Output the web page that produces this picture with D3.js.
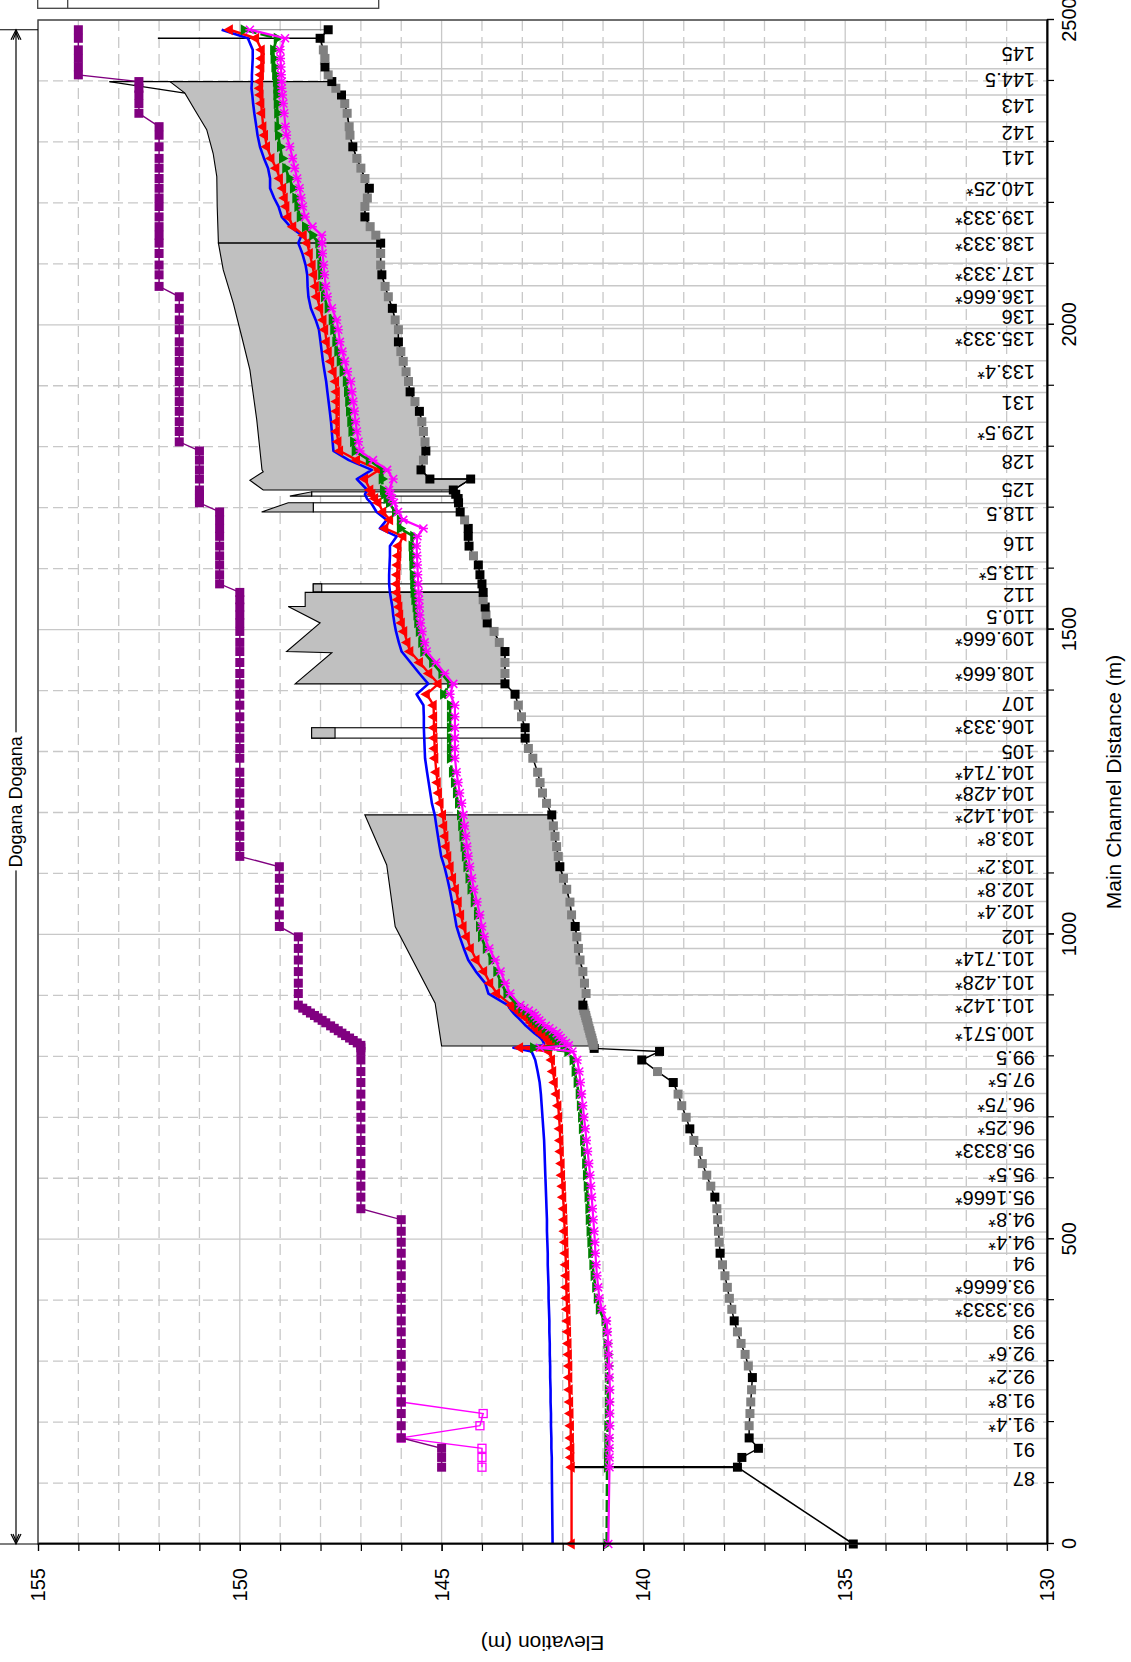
<!DOCTYPE html>
<html>
<head>
<meta charset="utf-8">
<title>Dogana Dogana – longitudinal profile</title>
<script src="https://cdn.jsdelivr.net/npm/d3@7/dist/d3.min.js"></script>
<style>
  html, body { margin: 0; padding: 0; background: #fff; }
  svg { display: block; font-family: "Liberation Sans", Arial, Helvetica, sans-serif; }
</style>
</head>
<body>
<svg id="chart" width="1131" height="1662"></svg>
<script>
// ---------- reach, axes ----------
const reachName = "Dogana Dogana";
const distanceTitle = "Main Channel Distance (m)";
const elevationTitle = "Elevation (m)";
const distanceDomain = [0, 2500];
const elevationDomain = [130, 155];
const distanceTickLabels = [0, 500, 1000, 1500, 2000, 2500];
const elevationTickLabels = [130, 135, 140, 145, 150, 155];

// ---------- labelled river stations [name, main channel distance] ----------
const sectionLabels = [
  ["145", 2463], ["144.5", 2420], ["143", 2377], ["142", 2333], ["141", 2292], ["140.25*", 2240],
  ["139.333*", 2194], ["138.333*", 2150], ["137.333*", 2101], ["136.666*", 2064], ["136", 2031],
  ["135.333*", 1994], ["133.4*", 1941], ["131", 1889], ["129.5*", 1840], ["128", 1793], ["125", 1747],
  ["118.5", 1707], ["116", 1659], ["113.5*", 1611], ["112", 1575], ["110.5", 1538], ["109.666*", 1502],
  ["108.666*", 1446], ["107", 1396], ["106.333*", 1358], ["105", 1317], ["104.714*", 1283],
  ["104.428*", 1249], ["104.142*", 1212], ["103.8*", 1174], ["103.2*", 1128], ["102.8*", 1091],
  ["102.4*", 1054], ["102", 1013], ["101.714*", 977], ["101.428*", 939], ["101.142*", 901],
  ["100.571*", 855], ["99.5", 816], ["97.5*", 779], ["96.75*", 739], ["96.25*", 701], ["95.8333*", 663],
  ["95.5*", 623], ["95.1666*", 586], ["94.8*", 550], ["94.4*", 512], ["94", 477], ["93.6666*", 440],
  ["93.3333*", 402], ["93", 366], ["92.6*", 329], ["92.2*", 292], ["91.8*", 253], ["91.4*", 213],
  ["91", 173], ["87", 125]
];

// ---------- computed sections (distance, m) ----------
const stations = [
  0, 126, 142, 157, 174, 194, 214, 233, 253, 273, 292, 311, 329, 348, 366, 385, 403, 421, 440, 458,
  477, 495, 513, 532, 550, 569, 587, 605, 624, 644, 662, 681, 700, 719, 738, 757, 775, 794, 808,
  814, 818, 822, 826, 830, 834, 838, 842, 846, 850, 855, 859, 863, 867, 871, 875, 879, 884,
  903, 920, 939, 958, 977, 996, 1013, 1032, 1053, 1074, 1092, 1111, 1128, 1144, 1161, 1178, 1196, 1215,
  1232, 1249, 1266, 1289, 1305, 1322, 1339, 1357, 1376, 1394, 1411,
  1428, 1446, 1464, 1479, 1497, 1511, 1524, 1537, 1549, 1561, 1575, 1590, 1606, 1621, 1637, 1653, 1666, 1680, 1693, 1708, 1715, 1722, 1729, 1747,
  1762, 1778, 1793, 1808, 1825, 1841, 1858, 1874, 1890, 1907, 1923, 1940, 1956, 1972, 1992, 2008, 2027, 2046, 2063, 2082, 2098, 2117, 2134,
  2147, 2161, 2177, 2194, 2208, 2224, 2240, 2257, 2273, 2292, 2311, 2325, 2347, 2363, 2377, 2388, 2399, 2410, 2423, 2437, 2451, 2470, 2484
];

// water surface, profile drawn in blue (m)
const wsBlue = [
  142.25, 142.27, 142.27, 142.28, 142.28, 142.29, 142.29, 142.30, 142.30, 142.31, 142.31, 142.32, 142.32, 142.33, 142.33, 142.34, 142.35, 142.35, 142.36, 142.37,
  142.37, 142.38, 142.39, 142.39, 142.40, 142.41, 142.42, 142.43, 142.44, 142.45, 142.46, 142.48, 142.50, 142.52, 142.54, 142.57, 142.62, 142.68, 142.77,
  143.22, 142.46, 142.47, 142.50, 142.55, 142.62, 142.70, 142.77, 142.84, 142.91, 142.98, 143.04, 143.10, 143.16, 143.22, 143.27, 143.31, 143.36,
  143.84, 143.92, 144.15, 144.34, 144.45, 144.55, 144.63, 144.68, 144.74, 144.80, 144.86, 144.93, 145.01, 145.05, 145.09, 145.13, 145.17, 145.24,
  145.28, 145.32, 145.36, 145.41, 145.42, 145.43, 145.44, 145.44, 145.45, 145.62, 145.33,
  145.55, 145.77, 145.99, 146.06, 146.13, 146.17, 146.20, 146.22, 146.25, 146.28, 146.30, 146.30, 146.29, 146.28, 146.28, 146.11, 146.53, 146.36, 146.61, 146.75, 146.85, 146.90, 146.84, 147.10,
  146.73, 147.30, 147.68, 147.70, 147.72, 147.74, 147.77, 147.80, 147.83, 147.86, 147.90, 147.94, 147.97, 148.00, 148.04, 148.12, 148.24, 148.30, 148.32, 148.33, 148.37, 148.45, 148.55,
  148.47, 148.75, 148.96, 149.04, 149.15, 149.25, 149.25, 149.30, 149.40, 149.50, 149.56, 149.59, 149.64, 149.67, 149.69, 149.71, 149.70, 149.70, 149.69, 149.68, 149.68, 149.80, 150.45
];

// water surface, profile drawn in red with triangles (m)
const wsRed = [
  141.78, 141.78, 141.79, 141.79, 141.80, 141.80, 141.81, 141.82, 141.83, 141.84, 141.84, 141.85, 141.86, 141.87, 141.88, 141.89, 141.90, 141.91, 141.91, 141.92,
  141.93, 141.94, 141.95, 141.96, 141.97, 141.99, 142.00, 142.02, 142.03, 142.05, 142.06, 142.07, 142.09, 142.11, 142.15, 142.20, 142.24, 142.27, 142.34,
  143.06, 142.27, 142.30, 142.34, 142.40, 142.47, 142.54, 142.60, 142.66, 142.72, 142.78, 142.82, 142.90, 142.98, 143.05, 143.12, 143.20, 143.27,
  143.63, 143.80, 143.95, 144.14, 144.28, 144.38, 144.46, 144.52, 144.58, 144.65, 144.72, 144.78, 144.84, 144.88, 144.91, 144.94, 144.97, 145.03,
  145.07, 145.10, 145.13, 145.16, 145.17, 145.18, 145.19, 145.19, 145.20, 145.37, 145.08,
  145.31, 145.54, 145.78, 145.85, 145.93, 145.99, 146.03, 146.05, 146.08, 146.10, 146.11, 146.10, 146.09, 146.08, 146.07, 145.95, 146.40, 146.28, 146.45, 146.57, 146.65, 146.72, 146.77, 146.90,
  146.55, 147.10, 147.52, 147.56, 147.60, 147.60, 147.60, 147.60, 147.60, 147.62, 147.68, 147.74, 147.80, 147.85, 147.89, 147.93, 148.01, 148.09, 148.12, 148.16, 148.20, 148.27, 148.33,
  148.42, 148.68, 148.80, 148.85, 148.89, 148.93, 149.01, 149.10, 149.22, 149.33, 149.38, 149.42, 149.45, 149.47, 149.49, 149.50, 149.50, 149.48, 149.47, 149.46, 149.46, 149.60, 150.25
];

// water surface, profile drawn in dashed green with triangles (m)
const wsGreen = [
  140.91, 140.90, 140.90, 140.89, 140.89, 140.89, 140.88, 140.88, 140.88, 140.88, 140.88, 140.89, 140.91, 140.93, 140.96, 141.10, 141.15, 141.19, 141.23, 141.26,
  141.29, 141.31, 141.33, 141.35, 141.36, 141.38, 141.40, 141.42, 141.44, 141.47, 141.49, 141.52, 141.54, 141.57, 141.60, 141.65, 141.70, 141.75, 141.88,
  142.73, 141.98, 142.05, 142.12, 142.18, 142.23, 142.27, 142.35, 142.44, 142.53, 142.62, 142.68, 142.74, 142.78, 142.82, 142.92, 143.02, 143.12,
  143.39, 143.52, 143.64, 143.76, 143.90, 144.02, 144.07, 144.12, 144.20, 144.28, 144.33, 144.38, 144.42, 144.45, 144.48, 144.51, 144.54, 144.59,
  144.64, 144.69, 144.74, 144.79, 144.79, 144.79, 144.79, 144.79, 144.79, 144.96, 144.79,
  145.00, 145.23, 145.45, 145.50, 145.56, 145.60, 145.62, 145.64, 145.67, 145.69, 145.70, 145.71, 145.72, 145.73, 145.74, 145.70, 146.03, 146.03, 146.15, 146.30, 146.36, 146.42, 146.45, 146.48,
  146.45, 146.80, 147.15, 147.19, 147.23, 147.26, 147.29, 147.31, 147.34, 147.37, 147.45, 147.52, 147.58, 147.63, 147.68, 147.72, 147.82, 147.91, 147.95, 147.98, 148.00, 148.03, 148.05,
  148.20, 148.38, 148.51, 148.57, 148.62, 148.68, 148.77, 148.87, 148.95, 149.00, 149.05, 149.06, 149.07, 149.08, 149.09, 149.09, 149.10, 149.12, 149.14, 149.16, 149.17, 149.08, 149.90
];

// water surface, profile drawn in magenta with crosses (m)
const wsMagenta = [
  140.87, 140.84, 140.84, 140.84, 140.84, 140.83, 140.83, 140.83, 140.83, 140.84, 140.85, 140.86, 140.87, 140.89, 140.91, 141.03, 141.09, 141.12, 141.15, 141.17,
  141.19, 141.20, 141.22, 141.24, 141.26, 141.28, 141.30, 141.32, 141.35, 141.38, 141.41, 141.44, 141.47, 141.50, 141.53, 141.56, 141.59, 141.64, 141.76,
  142.56, 141.85, 141.92, 141.99, 142.05, 142.10, 142.15, 142.24, 142.33, 142.42, 142.52, 142.58, 142.64, 142.69, 142.74, 142.84, 142.95, 143.05,
  143.30, 143.42, 143.54, 143.67, 143.82, 143.94, 144.00, 144.05, 144.12, 144.20, 144.25, 144.30, 144.34, 144.37, 144.40, 144.43, 144.46, 144.50,
  144.55, 144.59, 144.63, 144.67, 144.67, 144.67, 144.67, 144.67, 144.67, 144.79, 144.71,
  144.92, 145.14, 145.37, 145.42, 145.48, 145.52, 145.54, 145.55, 145.56, 145.57, 145.58, 145.59, 145.60, 145.61, 145.62, 145.60, 145.45, 145.95, 146.08, 146.18, 146.23, 146.27, 146.30, 146.20,
  146.35, 146.70, 147.02, 147.06, 147.10, 147.13, 147.16, 147.19, 147.22, 147.25, 147.33, 147.40, 147.46, 147.52, 147.56, 147.60, 147.72, 147.83, 147.87, 147.90, 147.92, 147.95, 147.96,
  147.97, 148.20, 148.38, 148.44, 148.48, 148.52, 148.58, 148.64, 148.69, 148.76, 148.84, 148.87, 148.90, 148.92, 148.94, 148.96, 148.96, 148.97, 148.98, 148.99, 149.00, 148.88, 149.75
];

// left levee crest at each section (m), none at the outlet section
const leveeLeft = [
  null, 145.0, 145.0, 145.0, 146.0, 146.0, 146.0, 146.0, 146.0, 146.0, 146.0, 146.0, 146.0, 146.0, 146.0, 146.0, 146.0, 146.0, 146.0, 146.0,
  146.0, 146.0, 146.0, 146.0, 147.0, 147.0, 147.0, 147.0, 147.0, 147.0, 147.0, 147.0, 147.0, 147.0, 147.0, 147.0, 147.0, 147.0, 147.0,
  147.0, 147.0, 147.09, 147.19, 147.28, 147.38, 147.47, 147.56, 147.66, 147.75, 147.87, 147.96, 148.06, 148.15, 148.25, 148.34, 148.44, 148.55,
  148.55, 148.55, 148.55, 148.55, 148.55, 148.55, 149.02, 149.02, 149.02, 149.02, 149.02, 149.02, 150.0, 150.0, 150.0, 150.0, 150.0, 150.0,
  150.0, 150.0, 150.0, 150.0, 150.0, 150.0, 150.0, 150.0, 150.0, 150.0, 150.0,
  150.0, 150.0, 150.0, 150.0, 150.0, 150.0, 150.0, 150.0, 150.0, 150.0, 150.5, 150.5, 150.5, 150.5, 150.5, 150.5, 150.5, 150.5, 150.5, 151.0, 151.0, 151.0, 151.0, 151.0,
  151.0, 151.0, 151.0, 151.5, 151.5, 151.5, 151.5, 151.5, 151.5, 151.5, 151.5, 151.5, 151.5, 151.5, 151.5, 151.5, 151.5, 151.5, 152.0, 152.0, 152.0, 152.0, 152.0, 152.0,
  152.0, 152.0, 152.0, 152.0, 152.0, 152.0, 152.0, 152.0, 152.0, 152.0, 152.0, 152.5, 152.5, 152.5, 152.5, 152.5, 154.0, 154.0, 154.0, 154.0, 154.0, 154.0, 154.0
];

// right levee crest where it departs from the left one [distance, elevation]
const leveeRight = [[126, 144.0], [142, 144.0], [157, 144.0], [174, 146.0], [194, 144.05], [214, 143.97], [233, 146.0]];

// channel invert [distance, elevation, surveyed section 1 / interpolated 0]
const ground = [
  [0, 134.80, 1], [126, 137.67, 1], [142, 137.56, 1], [157, 137.15, 1], [174, 137.38, 1], [194, 137.38, 0], [214, 137.36, 0],
  [233, 137.34, 0], [253, 137.32, 0], [273, 137.30, 1], [292, 137.40, 0], [311, 137.48, 0], [329, 137.58, 0], [348, 137.67, 0],
  [366, 137.75, 1], [385, 137.81, 0], [403, 137.87, 0], [421, 137.92, 0], [440, 137.98, 0], [458, 138.04, 0], [477, 138.10, 1],
  [495, 138.12, 0], [513, 138.14, 0], [532, 138.16, 0], [550, 138.18, 0], [569, 138.23, 1], [587, 138.33, 0], [605, 138.43, 0],
  [624, 138.54, 0], [644, 138.64, 0], [662, 138.75, 0], [681, 138.85, 1], [700, 138.94, 0], [719, 139.05, 0], [738, 139.14, 0],
  [757, 139.26, 1], [775, 139.65, 0], [794, 140.04, 1], [808, 139.60, 1], [813, 141.22, 1], [818, 141.24, 0], [822, 141.25, 0],
  [826, 141.27, 0], [830, 141.28, 0], [834, 141.30, 0], [838, 141.32, 0], [842, 141.33, 0], [846, 141.35, 0], [850, 141.37, 0],
  [855, 141.38, 0], [859, 141.40, 0], [863, 141.42, 0], [867, 141.43, 0], [871, 141.45, 0], [875, 141.47, 0], [879, 141.48, 0],
  [884, 141.50, 1], [903, 141.42, 0], [920, 141.46, 0], [939, 141.50, 0], [958, 141.57, 0], [977, 141.61, 0], [996, 141.65, 0],
  [1013, 141.69, 1], [1032, 141.78, 0], [1053, 141.82, 0], [1074, 141.90, 0], [1092, 141.98, 0], [1111, 142.07, 1], [1128, 142.11, 0],
  [1144, 142.15, 0], [1161, 142.19, 0], [1178, 142.23, 0], [1196, 142.27, 1], [1215, 142.40, 0], [1232, 142.50, 0], [1249, 142.56, 0],
  [1266, 142.62, 0], [1289, 142.74, 0], [1305, 142.85, 0], [1322, 142.93, 1], [1339, 142.93, 1], [1357, 143.02, 0], [1376, 143.10, 0],
  [1394, 143.18, 1], [1411, 143.43, 1], [1428, 143.43, 0], [1446, 143.43, 0], [1464, 143.43, 1], [1479, 143.57, 0], [1497, 143.70, 0],
  [1511, 143.87, 1], [1524, 143.90, 0], [1537, 143.92, 1], [1549, 143.97, 0], [1561, 143.97, 1], [1575, 144.00, 1], [1590, 144.05, 1],
  [1606, 144.09, 1], [1621, 144.21, 0], [1637, 144.32, 1], [1653, 144.34, 1], [1666, 144.34, 1], [1680, 144.43, 0], [1693, 144.54, 1],
  [1708, 144.58, 1], [1715, 144.59, 1], [1722, 144.65, 1], [1729, 144.71, 1], [1747, 144.28, 1], [1747, 145.29, 1], [1762, 145.51, 1],
  [1778, 145.45, 0], [1793, 145.39, 1], [1808, 145.41, 0], [1825, 145.45, 0], [1841, 145.49, 0], [1858, 145.55, 1], [1874, 145.66, 0],
  [1890, 145.78, 1], [1907, 145.82, 0], [1923, 145.88, 0], [1940, 145.95, 0], [1956, 146.01, 0], [1972, 146.07, 1], [1992, 146.07, 0],
  [2008, 146.15, 0], [2027, 146.22, 1], [2046, 146.32, 0], [2063, 146.40, 0], [2082, 146.48, 1], [2098, 146.51, 0], [2117, 146.51, 0],
  [2134, 146.51, 1], [2147, 146.63, 0], [2161, 146.77, 0], [2177, 146.90, 1], [2194, 146.90, 0], [2208, 146.84, 0], [2224, 146.79, 1],
  [2240, 146.90, 0], [2257, 147.00, 0], [2273, 147.10, 0], [2292, 147.20, 1], [2311, 147.27, 0], [2325, 147.29, 0], [2347, 147.34, 0],
  [2363, 147.40, 0], [2377, 147.48, 1], [2388, 147.62, 0], [2399, 147.72, 1], [2410, 147.81, 0], [2423, 147.89, 1], [2437, 147.89, 0],
  [2451, 147.93, 0], [2470, 148.01, 1], [2484, 147.81, 1]
];

// covered reaches: outer edge of each deck, closed down onto the invert
const deckEdges = [
  [[2399, 151.73], [2380, 151.36], [2352, 151.11], [2320, 150.82], [2281, 150.66], [2243, 150.57], [2194, 150.56], [2134, 150.53]],
  [[2134, 150.53], [2090, 150.41], [2035, 150.16], [1980, 149.95], [1926, 149.75], [1844, 149.58], [1762, 149.45], [1759, 149.42], [1745, 149.75], [1729, 149.42]],
  [[1561, 148.38], [1538, 148.38], [1538, 148.80], [1511, 148.01], [1464, 148.84], [1462, 147.72], [1411, 148.63]],
  [[1196, 146.90], [1114, 146.36], [1013, 146.15], [887, 145.16], [817, 145.00]]
];
// bridge openings [from, to, soffit, invert]
const openings = [[1719, 1726, 148.22, 144.68], [1693, 1708, 148.18, 144.58], [1562, 1575, 148.18, 144.00], [1322, 1339, 148.22, 142.93]];
// bridge decks above the openings
const bridgeDecks = [
  [[1719, 148.76], [1726, 148.22], [1719, 148.22]],
  [[1693, 149.46], [1708, 148.80], [1708, 148.18], [1693, 148.18]],
  [[1562, 148.18], [1575, 148.18], [1575, 147.97], [1562, 147.97]],
  [[1322, 148.22], [1339, 148.22], [1339, 147.64], [1322, 147.64]]
];
// weirs and walls drawn as single lines
const weirLines = [
  { pts: [[126, 141.78], [126, 137.67]], color: "#000", w: 2.2 },
  { pts: [[2470, 152.03], [2470, 148.01]], color: "#000", w: 1.6 },
  { pts: [[2484, 149.95], [2484, 147.81]], color: "#777", w: 1.2 },
  { pts: [[2399, 153.23], [2399, 147.72]], color: "#000", w: 1.2 },
  { pts: [[2399, 153.23], [2380, 151.36]], color: "#000", w: 1.2 }
];

// ---------- drawing ----------
const PAGE_H = 1662;
const plot = { left: 118, right: 1642, top: 38, bottom: 1047 };
const x = d3.scaleLinear().domain(distanceDomain).range([plot.left, plot.right]);
const y = d3.scaleLinear().domain(elevationDomain).range([plot.bottom, plot.top]);

const svg = d3.select("#chart");
svg.append("rect").attr("width", 1131).attr("height", PAGE_H).attr("fill", "#fff");

// the profile is laid out with distance along the horizontal, then turned a quarter turn onto the page
const g = svg.append("g").attr("transform", `translate(0,${PAGE_H}) rotate(-90)`);

// invert elevation at any distance (first crossing)
function groundAt(d) {
  for (let i = 1; i < ground.length; i++) {
    if (d <= ground[i][0]) {
      const a = ground[i - 1], b = ground[i];
      if (b[0] === a[0]) return b[1];
      return a[1] + (d - a[0]) / (b[0] - a[0]) * (b[1] - a[1]);
    }
  }
  return ground[ground.length - 1][1];
}

// grid
const majorElev = y.ticks(5), minorElev = y.ticks(25).filter(v => !majorElev.includes(v));
const majorDist = x.ticks(5), minorDist = x.ticks(25).filter(v => !majorDist.includes(v));
const grid = g.append("g").attr("stroke", "#c8c8c8").attr("stroke-width", 1.3);
grid.selectAll("line.em").data(minorElev).join("line")
  .attr("x1", plot.left).attr("x2", plot.right).attr("y1", d => y(d)).attr("y2", d => y(d))
  .attr("stroke-dasharray", "11,6");
grid.selectAll("line.eM").data(majorElev).join("line")
  .attr("x1", plot.left).attr("x2", plot.right).attr("y1", d => y(d)).attr("y2", d => y(d));
grid.selectAll("line.dm").data(minorDist).join("line")
  .attr("y1", plot.top).attr("y2", plot.bottom).attr("x1", d => x(d)).attr("x2", d => x(d))
  .attr("stroke-dasharray", "10,5");
grid.selectAll("line.dM").data(majorDist).join("line")
  .attr("y1", plot.top).attr("y2", plot.bottom).attr("x1", d => x(d)).attr("x2", d => x(d));

// section location lines, from the invert down to the axis
const xsG = g.append("g");
xsG.selectAll("line").data(sectionLabels).join("line")
  .attr("x1", d => x(d[1])).attr("x2", d => x(d[1]))
  .attr("y1", d => y(groundAt(d[1]))).attr("y2", plot.bottom)
  .attr("stroke", "#c8c8c8").attr("stroke-width", 1.5);
xsG.selectAll("text").data(sectionLabels).join("text")
  .attr("transform", d => `translate(${x(d[1]) - 4},${plot.bottom - 12}) rotate(-90)`)
  .attr("font-size", 20).attr("fill", "#000")
  .text(d => d[0]);

// covered reaches
const poly = d3.line().x(p => x(p[0])).y(p => y(p[1]));
const deckG = g.append("g");
deckEdges.forEach(edge => {
  const dHi = edge[0][0], dLo = edge[edge.length - 1][0];
  const inside = ground.filter(p => p[0] > dLo && p[0] < dHi).map(p => [p[0], p[1]]);
  const shape = edge.concat([[dLo, groundAt(dLo)]], inside, [[dHi, groundAt(dHi)]]);
  deckG.append("path").attr("d", poly(shape) + "Z")
    .attr("fill", "#c0c0c0").attr("stroke", "#000").attr("stroke-width", 1.1);
});
openings.forEach(o => {
  deckG.append("rect")
    .attr("x", x(o[0])).attr("width", x(o[1]) - x(o[0]))
    .attr("y", y(o[2])).attr("height", y(o[3]) - y(o[2]))
    .attr("fill", "#fff").attr("stroke", "#000").attr("stroke-width", 1.1);
});
bridgeDecks.forEach(b => {
  deckG.append("path").attr("d", poly(b) + "Z")
    .attr("fill", "#c0c0c0").attr("stroke", "#000").attr("stroke-width", 1.1);
});
weirLines.forEach(l => {
  deckG.append("path").attr("d", poly(l.pts)).attr("fill", "none")
    .attr("stroke", l.color).attr("stroke-width", l.w);
});

// channel invert
const gr = g.append("g");
gr.append("path").datum(ground).attr("d", poly).attr("fill", "none")
  .attr("stroke", "#000").attr("stroke-width", 1.5);
gr.selectAll("rect").data(ground).join("rect")
  .attr("x", d => x(d[0]) - 4.5).attr("y", d => y(d[1]) - 4.5)
  .attr("width", 9).attr("height", 9)
  .attr("fill", d => d[2] ? "#000" : "#808080");

// levees
const lv = g.append("g");
lv.append("path").datum(leveeRight).attr("d", poly).attr("fill", "none")
  .attr("stroke", "#ff00ff").attr("stroke-width", 1.4);
lv.selectAll("rect.r").data(leveeRight).join("rect")
  .attr("x", d => x(d[0]) - 4).attr("y", d => y(d[1]) - 4).attr("width", 8).attr("height", 8)
  .attr("fill", "none").attr("stroke", "#ff00ff").attr("stroke-width", 1.3);
const leftPts = stations.map((s, i) => [s, leveeLeft[i]]).filter(p => p[1] !== null);
lv.append("path").datum(leftPts).attr("d", poly).attr("fill", "none")
  .attr("stroke", "#800080").attr("stroke-width", 1.4);
lv.selectAll("rect.l").data(leftPts).join("rect")
  .attr("x", d => x(d[0]) - 4.5).attr("y", d => y(d[1]) - 4.5).attr("width", 9).attr("height", 9)
  .attr("fill", "#800080");

// water surfaces
function profile(values) { return stations.map((s, i) => [s, values[i]]); }
const ws = g.append("g");
const blueP = profile(wsBlue), redP = profile(wsRed), greenP = profile(wsGreen), magP = profile(wsMagenta);
ws.append("path").datum(blueP).attr("d", poly).attr("fill", "none")
  .attr("stroke", "#0000ff").attr("stroke-width", 2.6).attr("stroke-linejoin", "round");

ws.append("path").datum(redP).attr("d", poly).attr("fill", "none")
  .attr("stroke", "#ff0000").attr("stroke-width", 2.4).attr("stroke-linejoin", "round");
const tri = d3.symbol().type(d3.symbolTriangle).size(52)();
ws.selectAll("path.rt").data(redP).join("path").attr("class", "rt")
  .attr("d", tri).attr("transform", d => `translate(${x(d[0])},${y(d[1])})`)
  .attr("fill", "#ff0000");

ws.append("path").datum(greenP).attr("d", poly).attr("fill", "none")
  .attr("stroke", "#008000").attr("stroke-width", 2.6).attr("stroke-dasharray", "12,4");
ws.selectAll("path.gt").data(greenP).join("path").attr("class", "gt")
  .attr("d", tri).attr("transform", d => `translate(${x(d[0])},${y(d[1])}) rotate(180)`)
  .attr("fill", "#008000");

ws.append("path").datum(magP).attr("d", poly).attr("fill", "none")
  .attr("stroke", "#ff00ff").attr("stroke-width", 2.2);
ws.selectAll("path.mx").data(magP).join("path").attr("class", "mx")
  .attr("d", "M-4,-4L4,4M-4,4L4,-4M0,-4.5L0,4.5")
  .attr("transform", d => `translate(${x(d[0])},${y(d[1])})`)
  .attr("stroke", "#ff00ff").attr("stroke-width", 1.5).attr("fill", "none");

// frame
g.append("rect").attr("x", plot.left).attr("y", plot.top)
  .attr("width", plot.right - plot.left).attr("height", plot.bottom - plot.top)
  .attr("fill", "none").attr("stroke", "#444").attr("stroke-width", 1.4);

// axes
function styleAxis(sel) {
  sel.attr("font-family", null).attr("font-size", null);
  sel.selectAll("path.domain").attr("stroke", "#000").attr("stroke-width", 1.6);
  sel.selectAll(".tick line").attr("stroke", "#000").attr("stroke-width", 1.2);
  sel.selectAll(".tick text").attr("fill", "#000").attr("font-size", 20);
}
g.append("g").attr("transform", `translate(${plot.left},0)`)
  .call(d3.axisLeft(y).tickValues(y.ticks(25)).tickSize(7).tickSizeOuter(0).tickFormat(""))
  .call(styleAxis);
g.append("g").attr("transform", `translate(${plot.left},0)`)
  .call(d3.axisLeft(y).tickValues(elevationTickLabels).tickSize(7).tickSizeOuter(0).tickPadding(17).tickFormat(d3.format("d")))
  .call(styleAxis);
g.append("g").attr("transform", `translate(0,${plot.bottom})`)
  .call(d3.axisBottom(x).tickValues(x.ticks(25)).tickSize(7).tickSizeOuter(0).tickFormat(""))
  .call(styleAxis);
g.append("g").attr("transform", `translate(0,${plot.bottom})`)
  .call(d3.axisBottom(x).tickValues(distanceTickLabels).tickSize(7).tickSizeOuter(0).tickPadding(8).tickFormat(d3.format("d")))
  .call(styleAxis);

// axis titles
g.append("text").attr("x", x(1250)).attr("y", 1121).attr("text-anchor", "middle")
  .attr("font-size", 21).attr("fill", "#000").text(distanceTitle);
g.append("text").attr("transform", `translate(26,${y(142.5)}) rotate(-90)`).attr("text-anchor", "middle")
  .attr("font-size", 21).attr("fill", "#000").text(elevationTitle);

// reach extent with its name
const rA = x(stations[0]), rB = x(stations[stations.length - 1]), rv = 16;
const reach = g.append("g").attr("stroke", "#000").attr("stroke-width", 1.2).attr("fill", "none");
reach.append("line").attr("x1", rA).attr("x2", rB).attr("y1", rv).attr("y2", rv);
reach.append("line").attr("x1", rA).attr("x2", rA).attr("y1", 0).attr("y2", plot.top);
reach.append("line").attr("x1", rB).attr("x2", rB).attr("y1", 0).attr("y2", plot.top);
reach.append("path").attr("d", `M${rA + 10},${rv - 5}L${rA},${rv}L${rA + 10},${rv + 5}M${rA + 10},${rv - 3}L${rA + 3},${rv}L${rA + 10},${rv + 3}`);
reach.append("path").attr("d", `M${rB - 10},${rv - 5}L${rB},${rv}L${rB - 10},${rv + 5}M${rB - 10},${rv - 3}L${rB - 3},${rv}L${rB - 10},${rv + 3}`);
const rl = g.append("text").attr("x", (rA + rB) / 2 - 15).attr("y", rv).attr("dy", "0.35em")
  .attr("text-anchor", "middle").attr("font-size", 18).attr("fill", "#000").text(reachName);
const bb = rl.node().getBBox();
g.insert("rect", () => rl.node()).attr("x", bb.x - 3).attr("y", bb.y).attr("width", bb.width + 6).attr("height", bb.height)
  .attr("fill", "#fff");

// legend box (clipped by the top of the page)
svg.append("rect").attr("x", 37.7).attr("y", -6).attr("width", 341).attr("height", 14.3)
  .attr("fill", "#fff").attr("stroke", "#444").attr("stroke-width", 1.3);
svg.append("line").attr("x1", 67.7).attr("x2", 67.7).attr("y1", 0).attr("y2", 8.3)
  .attr("stroke", "#444").attr("stroke-width", 1.3);
</script>
</body>
</html>
